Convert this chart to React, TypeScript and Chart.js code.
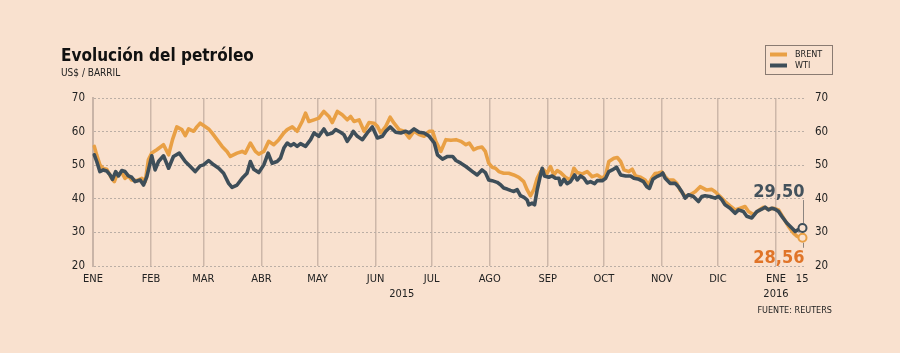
import React, { useEffect, useRef } from "react";
import { Chart, registerables } from "chart.js";
Chart.register(...registerables);

const BG = "#F9E1CF";
const FONT = "'DejaVu Sans Condensed', 'DejaVu Sans', sans-serif";
const BRENT_COLOR = "#E9A045";
const WTI_COLOR = "#3E4E59";
const LABEL_ORANGE = "#E07428";

// x = days since 1 Jan 2015
const tickDays = [0, 31, 59, 90, 120, 151, 165, 181, 212, 243, 273, 304, 334, 365, 379];
const tickLabels: string[][] = [
  ["ENE"], ["FEB"], ["MAR"], ["ABR"], ["MAY"], ["JUN"], ["", "2015"], ["JUL"],
  ["AGO"], ["SEP"], ["OCT"], ["NOV"], ["DIC"], ["ENE", "2016"], ["15"],
];
const yTicks = [20, 30, 40, 50, 60, 70];

const brentDay = [
  0.7, 2.0, 3.7, 5.5, 7.3, 10.0, 11.4, 12.7, 15.4, 17.1, 18.9, 20.7, 23.4, 26.1, 27.9,
  29.6, 31.4, 34.1, 37.7, 40.4, 42.5, 44.8, 47.5, 49.3, 51.1, 53.8, 55.5, 57.3, 59.7,
  61.8, 63.6, 66.3, 69.0, 71.6, 73.4, 77.0, 79.7, 81.4, 84.1, 86.8, 88.6, 91.3, 93.9,
  96.6, 99.3, 102.0, 103.8, 106.5, 109.1, 111.8, 113.6, 115.4, 118.1, 120.7, 123.4,
  126.1, 127.9, 130.6, 133.2, 135.9, 137.7, 139.5, 142.2, 144.9, 147.5, 150.2, 152.0,
  153.8, 156.5, 158.8, 160.9, 163.6, 166.3, 169.0, 171.6, 174.3, 177.0, 179.7, 181.5,
  183.2, 185.9, 188.6, 191.3, 194.0, 196.6, 199.3, 201.1, 203.5, 205.3, 207.9, 209.7,
  211.5, 213.3, 215.1, 216.9, 219.5, 222.2, 224.9, 227.6, 230.2, 232.0, 233.8, 235.6,
  237.4, 239.2, 240.9, 242.7, 244.5, 246.3, 248.1, 249.9, 252.5, 255.2, 257.0, 258.8,
  261.5, 264.1, 266.8, 269.5, 272.2, 274.0, 275.7, 278.4, 280.2, 282.0, 283.8, 286.4,
  288.2, 290.0, 292.7, 295.1, 296.9, 298.6, 300.4, 302.2, 304.0, 305.8, 307.5, 310.2,
  312.0, 313.8, 316.5, 319.1, 321.8, 324.5, 326.3, 328.0, 330.7, 332.5, 335.2, 337.8,
  340.5, 343.2, 345.9, 348.5, 350.3, 353.0, 355.7, 358.3, 361.0, 363.7, 366.4, 369.0,
  371.7, 374.4, 376.2, 377.9, 379.2,
];
const brentVal = [
  55.6, 53.0, 50.1, 49.0, 48.8, 46.1, 45.1, 47.0, 47.8, 46.1, 46.8, 45.6, 45.4, 46.1, 45.1,
  51.6, 53.6, 54.6, 56.1, 53.1, 57.6, 61.4, 60.6, 58.8, 60.8, 60.1, 61.4, 62.5, 61.6,
  60.8, 59.6, 57.6, 55.6, 54.1, 52.6, 53.6, 54.1, 53.6, 56.6, 54.1, 53.3, 54.1, 57.1,
  56.1, 57.6, 59.6, 60.6, 61.4, 60.1, 63.0, 65.5, 63.0, 63.5, 64.0, 66.0,
  64.5, 62.7, 66.0, 65.0, 63.5, 64.5, 63.0, 63.5, 60.1, 62.7, 62.5, 61.6,
  59.6, 61.6, 64.3, 62.5, 60.6, 60.1, 58.1, 60.1, 59.1, 58.6, 60.1, 60.1,
  57.1, 54.1, 57.6, 57.4, 57.6, 57.1, 56.1, 56.6, 54.6, 55.1, 55.4, 54.1,
  50.6, 49.4, 49.1, 48.1, 47.6, 47.6, 47.1, 46.4, 45.1, 42.7, 40.9, 42.7,
  46.1, 48.1, 48.6, 47.6, 49.6, 47.1, 48.4, 47.8, 46.4, 45.6, 49.1, 47.8,
  47.4, 48.1, 46.6, 47.1, 46.1, 47.1, 51.1, 52.1, 52.3, 51.1, 48.6, 48.1,
  48.8, 46.8, 46.4, 45.6, 44.1, 46.1, 47.5, 47.7, 48.0, 46.6, 45.6, 45.6,
  44.6, 42.6, 40.7, 41.2, 42.1, 43.6, 43.1, 42.6, 42.8, 42.1, 40.7, 39.2,
  37.9, 36.7, 37.2, 37.7, 36.2, 35.3, 36.5, 37.5, 36.9, 37.2, 36.7, 34.3,
  31.8, 29.8, 28.9, 28.4, 28.4,
];

const wtiDay = [
  0.7, 2.0, 3.7, 5.5, 7.3, 9.1, 10.4, 12.1, 13.6, 15.4, 17.1, 18.9, 20.7, 22.5, 25.2,
  27.0, 28.8, 31.4, 33.2, 35.0, 37.7, 40.4, 43.0, 46.1, 49.3, 52.0, 54.6, 57.3, 59.1,
  61.8, 64.5, 67.2, 69.8, 72.5, 74.3, 77.0, 79.7, 82.3, 84.1, 85.9, 88.6, 91.3, 93.6,
  95.7, 98.4, 100.2, 102.0, 103.8, 105.6, 107.3, 109.1, 110.9, 113.6, 116.3, 118.1,
  120.7, 123.4, 125.2, 127.9, 129.7, 132.3, 134.1, 135.9, 137.7, 139.1, 141.3, 144.0,
  146.6, 149.3, 152.0, 154.7, 156.5, 158.8, 161.8, 164.5, 167.2, 169.0, 171.6, 174.3,
  177.0, 179.7, 182.4, 184.1, 186.8, 189.5, 192.2, 194.0, 196.6, 199.3, 203.5, 205.3,
  207.9, 209.7, 211.5, 213.3, 216.0, 217.8, 219.5, 221.3, 223.1, 224.9, 226.7, 228.5,
  230.2, 232.0, 232.9, 234.7, 236.0, 237.4, 239.2, 240.1, 241.3, 243.6, 245.4, 247.2,
  249.0, 249.9, 251.7, 253.4, 255.2, 257.4, 258.8, 260.6, 262.4, 264.1, 265.9, 268.1,
  269.5, 272.2, 274.0, 275.7, 277.5, 279.8, 282.0, 284.7, 287.3, 289.1, 291.8, 294.2,
  296.0, 297.4, 299.2, 301.3, 303.4, 304.5, 305.8, 308.4, 311.1, 312.9, 314.7, 316.5,
  318.2, 320.9, 323.6, 325.4, 327.1, 329.8, 332.5, 334.3, 336.1, 337.8, 340.5, 343.2,
  345.0, 347.6, 349.4, 352.1, 354.8, 357.4, 359.2, 361.0, 362.8, 364.6, 366.4, 368.1,
  370.8, 373.5, 375.3, 377.0, 379.2,
];
const wtiVal = [
  53.1, 51.1, 48.1, 48.6, 48.3, 47.1, 45.8, 48.1, 46.8, 48.4, 48.1, 46.8, 46.4, 45.1, 45.6,
  44.1, 46.6, 52.8, 48.6, 51.1, 52.8, 49.1, 52.6, 53.6, 51.1, 49.6, 48.1, 49.8, 50.1,
  51.4, 50.1, 49.1, 47.6, 44.6, 43.4, 44.1, 46.1, 47.6, 51.1, 48.8, 47.8, 50.1, 53.6,
  50.6, 51.1, 52.1, 55.1, 56.6, 55.8, 56.4, 55.6, 56.4, 55.6, 57.6, 59.6,
  58.6, 60.8, 59.1, 59.6, 60.6, 59.8, 59.1, 57.1, 58.6, 60.1, 58.6, 57.6,
  59.6, 61.4, 58.1, 58.6, 60.1, 61.4, 59.8, 59.6, 60.1, 59.6, 60.8, 59.8,
  59.6, 58.6, 56.6, 53.1, 51.8, 52.6, 52.6, 51.4, 50.6, 49.6, 47.8, 47.1,
  48.6, 47.8, 45.6, 45.4, 44.9, 44.2, 43.2, 42.9, 42.5, 42.2, 42.7, 40.9,
  40.5, 39.7, 38.2, 38.7, 38.2, 42.7, 47.1, 49.1, 46.8, 46.4, 46.8, 46.1,
  46.1, 44.2, 45.8, 44.5, 45.1, 47.1, 45.6, 46.8, 46.1, 44.7, 45.1, 44.5,
  45.4, 45.4, 46.1, 48.1, 48.6, 49.4, 47.1, 46.8, 46.8, 46.1, 45.8, 45.1,
  43.6, 43.1, 45.8, 46.6, 47.1, 47.7, 46.1, 44.6, 44.6, 43.6, 42.1, 40.2,
  41.2, 40.7, 39.2, 40.7, 40.9, 40.7, 40.2, 40.7, 39.7, 38.2, 37.2, 35.7,
  36.7, 36.2, 34.8, 34.3, 36.2, 36.9, 37.5, 36.7, 37.2, 36.9, 36.2, 34.8,
  32.8, 31.3, 30.3, 30.8, 31.3,
];

const brentLastLabel = "28,56";
const wtiLastLabel = "29,50";

const titleText = "Evolución del petróleo";
const subtitleText = "US$ / BARRIL";
const sourceText = "FUENTE: REUTERS";
const legendNames = ["BRENT", "WTI"];

const annotPlugin = {
  id: "annot",
  beforeDraw(chart: any) {
    const { ctx, width, height } = chart;
    ctx.save();
    ctx.fillStyle = BG;
    ctx.fillRect(0, 0, width, height);
    ctx.restore();
  },
  afterDatasetsDraw(chart: any) {
    const { ctx } = chart;
    const x = chart.scales.x;
    const y = chart.scales.y;
    const wx = x.getPixelForValue(wtiDay[wtiDay.length - 1]);
    const wy = y.getPixelForValue(wtiVal[wtiVal.length - 1]);
    const bx = x.getPixelForValue(brentDay[brentDay.length - 1]);
    const by = y.getPixelForValue(brentVal[brentVal.length - 1]);
    ctx.save();
    ctx.strokeStyle = "#8C8580";
    ctx.lineWidth = 1;
    ctx.beginPath();
    ctx.moveTo(Math.round(wx) + 0.5, wy - 28);
    ctx.lineTo(Math.round(wx) + 0.5, wy - 5);
    ctx.moveTo(Math.round(bx) + 0.5, by + 5);
    ctx.lineTo(Math.round(bx) + 0.5, by + 10);
    ctx.stroke();
    ctx.font = `bold 18px ${FONT}`;
    ctx.textAlign = "right";
    ctx.textBaseline = "alphabetic";
    ctx.fillStyle = "#44525C";
    ctx.fillText(wtiLastLabel, wx + 2, wy - 31);
    ctx.fillStyle = LABEL_ORANGE;
    ctx.fillText(brentLastLabel, bx + 2, by + 25);
    ctx.restore();
  },
  afterDraw(chart: any) {
    const { ctx } = chart;
    ctx.save();
    ctx.fillStyle = "#111";
    ctx.textAlign = "left";
    ctx.textBaseline = "alphabetic";
    ctx.font = `bold 17px ${FONT}`;
    ctx.fillText(titleText, 61, 61);
    ctx.font = `10px ${FONT}`;
    ctx.fillStyle = "#222";
    ctx.fillText(subtitleText, 61, 76);
    // legend
    ctx.strokeStyle = "#8A7B72";
    ctx.lineWidth = 1;
    ctx.strokeRect(765.5, 45.5, 67, 29);
    const colors = [BRENT_COLOR, WTI_COLOR];
    const ys = [54.5, 65.5];
    for (let i = 0; i < 2; i++) {
      ctx.strokeStyle = colors[i];
      ctx.lineWidth = 4;
      ctx.beginPath();
      ctx.moveTo(770, ys[i]);
      ctx.lineTo(787, ys[i]);
      ctx.stroke();
      ctx.fillStyle = "#222";
      ctx.font = `9px ${FONT}`;
      ctx.textBaseline = "middle";
      ctx.fillText(legendNames[i], 795, ys[i]);
    }
    ctx.textAlign = "right";
    ctx.textBaseline = "alphabetic";
    ctx.font = `9px ${FONT}`;
    ctx.fillText(sourceText, 832, 313);
    ctx.restore();
  },
};

export default function App() {
  const ref = useRef<HTMLCanvasElement | null>(null);
  useEffect(() => {
    document.body.style.margin = "0";
    document.body.style.background = BG;
    const canvas = ref.current!;
    const lastIdxW = wtiVal.length - 1;
    const lastIdxB = brentVal.length - 1;
    const chart = new Chart(canvas, {
      type: "line",
      data: {
        datasets: [
          {
            label: "WTI",
            data: wtiDay.map((d, i) => ({ x: d, y: wtiVal[i] })),
            borderColor: WTI_COLOR,
            borderWidth: 3.6,
            tension: 0,
            clip: false,
            pointRadius: (c: any) => (c.dataIndex === lastIdxW ? 4 : 0),
            pointBorderWidth: 2,
            pointBorderColor: WTI_COLOR,
            pointBackgroundColor: BG,
            borderJoinStyle: "round",
            borderCapStyle: "round",
          },
          {
            label: "BRENT",
            data: brentDay.map((d, i) => ({ x: d, y: brentVal[i] })),
            borderColor: BRENT_COLOR,
            borderWidth: 3.6,
            tension: 0,
            clip: false,
            pointRadius: (c: any) => (c.dataIndex === lastIdxB ? 4 : 0),
            pointBorderWidth: 2,
            pointBorderColor: BRENT_COLOR,
            pointBackgroundColor: BG,
            borderJoinStyle: "round",
            borderCapStyle: "round",
          },
        ],
      },
      options: {
        animation: false,
        responsive: false,
        events: [],
        layout: { padding: { left: 50, right: 40, top: 98, bottom: 0 } },
        plugins: { legend: { display: false }, tooltip: { enabled: false } },
        scales: {
          x: {
            type: "linear",
            min: 0,
            max: 380,
            afterBuildTicks: (axis: any) => {
              axis.ticks = tickDays.map((v) => ({ value: v }));
            },
            afterFit: (s: any) => {
              s.height = 87;
            },
            ticks: {
              autoSkip: false,
              maxRotation: 0,
              padding: 6,
              color: "#222",
              font: { family: FONT, size: 11, lineHeight: 1.35 },
              callback: (v: any) => {
                const i = tickDays.indexOf(v);
                return i >= 0 ? tickLabels[i] : "";
              },
            },
            grid: {
              drawTicks: false,
              lineWidth: 1.5,
              color: (c: any) => {
                const v = c.tick ? c.tick.value : -1;
                if (v === 0 || v === 165 || v === 379) return "rgba(0,0,0,0)";
                return "#CDB7A9";
              },
            },
            border: { display: false },
          },
          y: {
            position: "left",
            min: 20,
            max: 70,
            afterBuildTicks: (axis: any) => {
              axis.ticks = yTicks.map((v) => ({ value: v }));
            },
            afterFit: (s: any) => {
              s.width = 43;
            },
            ticks: {
              padding: 8,
              color: "#222",
              font: { family: FONT, size: 11.5 },
            },
            grid: {
              drawTicks: false,
              color: "#BBAEA5",
              lineWidth: 1,
            },
            border: { display: true, color: "#C9B4A7", width: 2, dash: [2, 2] },
          },
          y2: {
            position: "right",
            min: 20,
            max: 70,
            afterBuildTicks: (axis: any) => {
              axis.ticks = yTicks.map((v) => ({ value: v }));
            },
            afterFit: (s: any) => {
              s.width = 56;
            },
            ticks: {
              padding: 11,
              color: "#222",
              font: { family: FONT, size: 11.5 },
            },
            grid: { display: false, drawTicks: false },
            border: { display: false },
          },
        },
      } as any,
      plugins: [annotPlugin as any],
    });
    return () => chart.destroy();
  }, []);
  return <canvas ref={ref} width={900} height={353} style={{ display: "block" }} />;
}
